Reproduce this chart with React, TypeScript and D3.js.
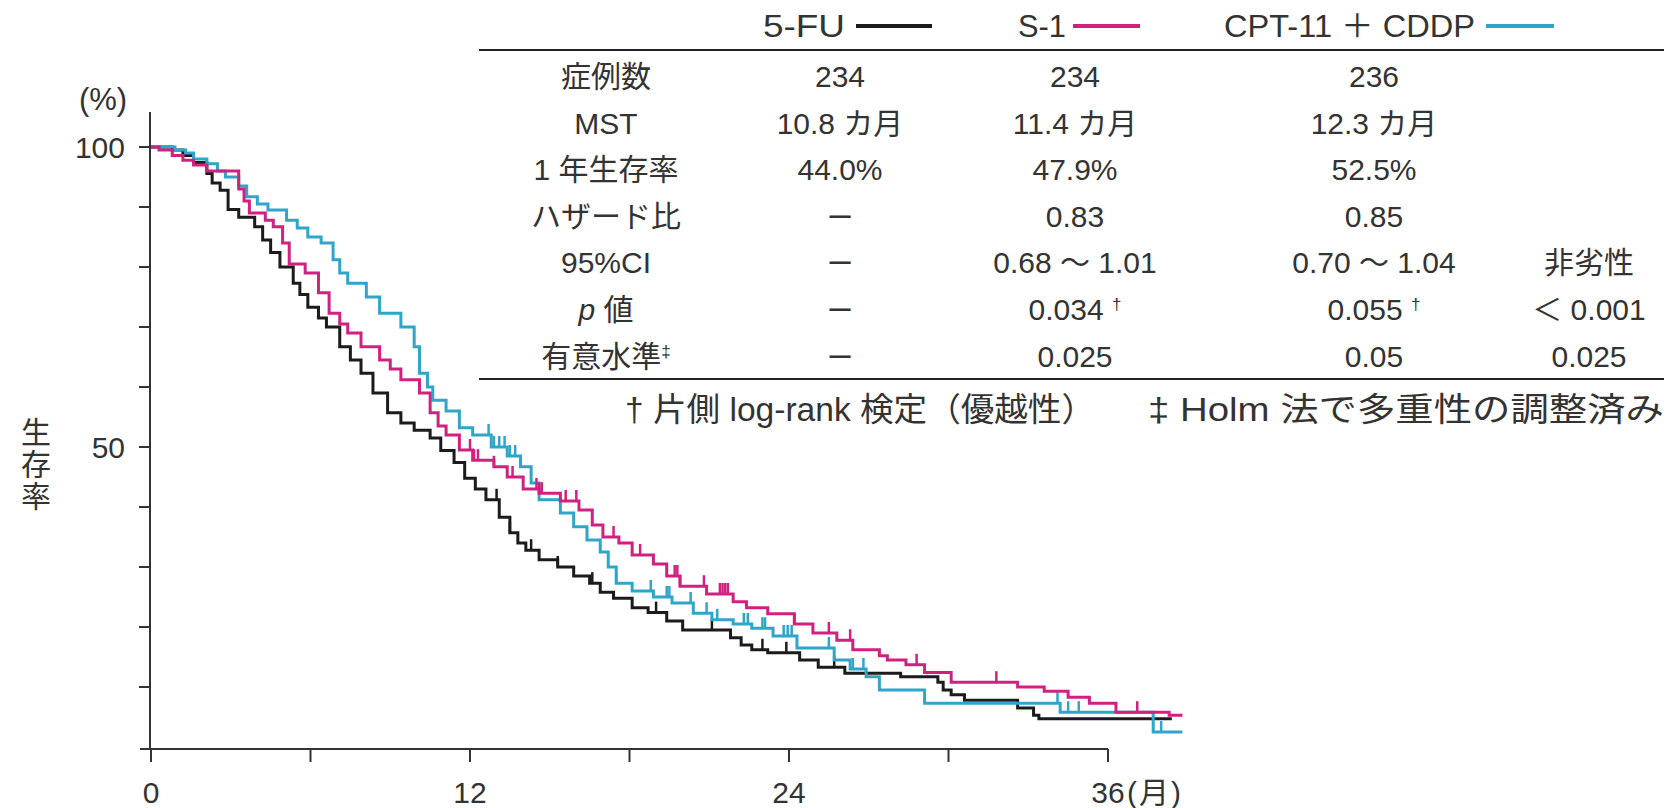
import React from "react";
import * as d3 from "d3";

const W = 1666;
const H = 808;

// Kaplan–Meier step points [month, survival %]
const fu5Steps: [number, number][] = [
  [0, 100], [0.8, 99.5], [1.2, 98.6], [1.6, 97.4], [2.1, 95.6], [2.3, 94.0], [2.6, 92.8], [2.9, 89.6],
  [3.3, 88.3], [3.9, 86.7], [4.2, 84.5], [4.5, 82.4], [4.85, 80.0], [5.35, 77.3], [5.6, 75.4], [5.9, 73.3],
  [6.3, 71.5], [6.6, 70.0], [7.1, 66.7], [7.5, 64.5], [7.9, 62.3], [8.35, 59.0], [8.9, 55.7], [9.4, 54.0],
  [9.9, 52.8], [10.5, 51.5], [10.9, 49.4], [11.4, 47.4], [11.8, 44.8], [12.2, 43.0], [12.6, 41.2], [13.1, 38.3],
  [13.5, 35.7], [13.8, 34.0], [14.1, 32.8], [14.6, 31.2], [15.3, 30.0], [15.9, 28.5], [16.5, 27.3], [16.9, 25.8],
  [17.4, 24.8], [18.1, 23.2], [18.7, 22.4], [19.4, 21.0], [20.0, 19.5], [21.8, 18.2], [22.2, 17.0], [22.6, 16.2],
  [23.2, 15.7], [24.4, 14.5], [25.1, 13.3], [26.1, 12.3], [28.2, 11.7], [29.6, 10.8], [29.8, 9.5], [30.1, 8.7],
  [30.6, 7.8], [32.6, 6.5], [33.2, 5.3], [33.4, 4.7], [38.4, 4.7],
];
const s1Steps: [number, number][] = [
  [0, 100], [0.3, 99.5], [0.8, 98.6], [1.2, 97.8], [1.6, 97.0], [2.1, 96.0], [3.3, 93.0], [3.5, 91.0],
  [3.7, 89.0], [4.3, 87.8], [4.6, 86.7], [4.95, 84.0], [5.2, 80.5], [5.8, 79.0], [6.3, 75.7], [6.7, 72.3],
  [7.1, 70.5], [7.4, 69.0], [7.9, 66.7], [8.6, 64.5], [9.0, 63.0], [9.4, 61.2], [10.1, 59.0], [10.5, 55.7],
  [10.8, 53.5], [11.1, 52.0], [11.6, 49.5], [12.1, 47.8], [12.9, 46.7], [13.4, 45.0], [14.0, 43.0], [14.6, 42.3],
  [15.4, 41.0], [16.1, 39.5], [16.6, 37.0], [17.0, 35.0], [17.6, 34.0], [18.1, 32.0], [18.9, 30.5], [19.4, 28.5],
  [19.9, 26.8], [20.9, 25.5], [21.9, 24.2], [22.4, 23.2], [23.2, 22.2], [24.2, 20.5], [24.9, 19.0], [25.8, 17.8],
  [26.4, 16.2], [27.4, 15.2], [27.7, 14.5], [28.4, 13.7], [29.1, 12.4], [30.1, 10.8], [32.6, 10.0], [33.6, 9.3],
  [34.5, 8.3], [35.3, 7.3], [36.3, 5.8], [38.3, 5.3], [38.8, 5.3],
];
const cptSteps: [number, number][] = [
  [0, 100], [0.9, 99.5], [1.3, 99.0], [1.6, 98.0], [2.1, 97.2], [2.5, 96.0], [2.8, 95.0], [3.3, 93.5],
  [3.6, 91.7], [4.0, 90.5], [4.4, 89.5], [5.1, 87.8], [5.5, 86.5], [5.9, 85.0], [6.4, 84.0], [6.85, 81.2],
  [7.1, 79.0], [7.4, 77.3], [8.1, 75.0], [8.6, 72.3], [9.4, 70.0], [9.9, 66.7], [10.1, 62.3], [10.4, 60.0],
  [10.6, 57.8], [11.1, 56.0], [11.6, 53.2], [12.1, 52.0], [12.8, 50.0], [13.4, 48.5], [13.9, 46.7], [14.3, 44.0],
  [14.6, 41.2], [15.4, 39.0], [15.9, 36.7], [16.4, 34.5], [16.9, 32.5], [17.2, 30.0], [17.5, 27.3], [18.1, 26.0],
  [18.9, 25.0], [19.6, 24.0], [20.4, 22.3], [21.1, 21.2], [21.9, 20.5], [22.6, 19.8], [23.4, 18.5], [24.3, 16.5],
  [25.7, 14.5], [26.3, 13.0], [26.9, 11.7], [27.4, 9.5], [29.1, 7.3], [34.2, 5.8], [37.7, 2.5], [38.8, 2.5],
];

// censoring marks (months)
const fu5Censor = [13.0, 13.5, 14.3, 15.3, 16.6, 19.0, 21.1, 23.0, 23.9, 25.7];
const s1Censor = [12.0, 12.15, 12.3, 12.9, 13.6, 14.5, 14.6, 14.7, 15.6, 16.0, 17.4, 18.4, 19.7, 19.8, 19.9,
  20.8, 21.4, 21.5, 21.6, 21.7, 24.2, 25.5, 26.3, 28.8, 31.8, 37.1];
const cptCensor = [12.7, 12.9, 13.1, 13.3, 13.5, 13.7, 13.9, 17.5, 18.8, 19.4, 19.5, 20.3, 20.9, 21.3, 22.3,
  22.45, 23.0, 23.1, 23.8, 23.95, 24.1, 25.5, 26.4, 26.8, 34.1, 34.5, 34.9, 38.0];

const xTicks = [0, 6, 12, 18, 24, 30, 36];
const xTickLabels = [0, 12, 24, 36];
const yTicks = [10, 20, 30, 40, 50, 60, 70, 80, 90, 100];
const yTickLabels = [50, 100];

const seriesNames = ["5-FU", "S-1", "CPT-11 ＋ CDDP"];
const seriesColors = ["#1b1b1b", "#d0217f", "#2fa6c9"];

const rowLabels = ["症例数", "MST", "1 年生存率", "ハザード比", "95%CI", "p値", "有意水準‡"];
const col5FU = ["234", "10.8 カ月", "44.0%", "–", "–", "–", "–"];
const colS1 = ["234", "11.4 カ月", "47.9%", "0.83", "0.68 ～ 1.01", "0.034 †", "0.025"];
const colCPT = ["236", "12.3 カ月", "52.5%", "0.85", "0.70 ～ 1.04", "0.055 †", "0.05"];
const colNonInf = ["", "", "", "", "非劣性", "＜ 0.001", "0.025"];
const footnotes = ["† 片側 log-rank 検定（優越性）", "‡ Holm 法で多重性の調整済み"];

const FONT = "'Liberation Sans', Arial, 'Noto Sans CJK JP', sans-serif";
const TXT = "#333";

function survAt(steps: [number, number][], t: number) {
  let s = steps[0][1];
  for (const [tt, v] of steps) {
    if (tt <= t) s = v;
    else break;
  }
  return s;
}

function renderCell(text: string, x: number, y: number, key: string) {
  if (text === "p値") {
    return (
      <text key={key} x={x} y={y} textAnchor="middle">
        <tspan fontStyle="italic">p</tspan>
        <tspan> 値</tspan>
      </text>
    );
  }
  if (text === "–") {
    return (
      <text key={key} x={x} y={y} textAnchor="middle" fontSize={38}>
        {text}
      </text>
    );
  }
  const m = text.match(/^(.*?)([†‡])$/);
  if (m) {
    return (
      <text key={key} x={x} y={y} textAnchor="middle">
        <tspan>{m[1]}</tspan>
        <tspan fontSize={17} dy={-10}>{m[2]}</tspan>
      </text>
    );
  }
  return (
    <text key={key} x={x} y={y} textAnchor="middle">
      {text}
    </text>
  );
}

export default function App() {
  const x = d3.scaleLinear().domain([0, 36]).range([151, 1108]);
  const y = d3.scaleLinear().domain([0, 100]).range([747, 147]);

  const line = d3
    .line<[number, number]>()
    .x((d) => x(d[0]))
    .y((d) => y(d[1]))
    .curve(d3.curveStepAfter);

  const series = [
    { steps: fu5Steps, censor: fu5Censor, color: seriesColors[0] },
    { steps: cptSteps, censor: cptCensor, color: seriesColors[2] },
    { steps: s1Steps, censor: s1Censor, color: seriesColors[1] },
  ];

  const axisY = 749;
  const axisX = 150;

  const rowY0 = 77;
  const rowStep = 46.6;
  const colX = [606, 840, 1075, 1374, 1589];
  const cols = [rowLabels, col5FU, colS1, colCPT, colNonInf];

  const legendItems = [
    { name: seriesNames[0], tx: 763, len: 82, lx1: 856, lx2: 932, color: seriesColors[0] },
    { name: seriesNames[1], tx: 1018, len: 48, lx1: 1073, lx2: 1140, color: seriesColors[1] },
    { name: seriesNames[2], tx: 1224, len: 251, lx1: 1486, lx2: 1554, color: seriesColors[2] },
  ];

  return (
    <svg
      width={W}
      height={H}
      style={{ position: "absolute", left: 0, top: 0, background: "#fff" }}
      fontFamily={FONT}
    >
      <rect width={W} height={H} fill="#fff" />

      {/* axes */}
      <line x1={axisX} x2={axisX} y1={112} y2={axisY} stroke="#333" strokeWidth={2} />
      <line x1={140} x2={x(36)} y1={axisY} y2={axisY} stroke="#333" strokeWidth={2} />
      {yTicks.map((t) => (
        <line key={"yt" + t} x1={axisX - 11} x2={axisX} y1={y(t)} y2={y(t)} stroke="#333" strokeWidth={2} />
      ))}
      {xTicks.map((t) => (
        <line key={"xt" + t} x1={x(t)} x2={x(t)} y1={axisY} y2={axisY + 13} stroke="#333" strokeWidth={2} />
      ))}
      <g fontSize={30} fill={TXT}>
        {yTickLabels.map((t) => (
          <text key={"yl" + t} x={125} y={y(t) + 11} textAnchor="end">
            {t}
          </text>
        ))}
        {xTickLabels.map((t) => (
          <text key={"xl" + t} x={x(t)} y={803} textAnchor="middle">
            {t}
          </text>
        ))}
        <text x={x(36) + 19} y={803} textLength={54} lengthAdjust="spacing">(月)</text>
        <text x={103} y={110} textAnchor="middle" fontSize={31}>(%)</text>
      </g>
      <g fontSize={30} fill={TXT} textAnchor="middle">
        <text x={36} y={443}>生</text>
        <text x={36} y={475}>存</text>
        <text x={36} y={507}>率</text>
      </g>

      {/* curves */}
      {series.map((s, i) => (
        <g key={"s" + i}>
          <path d={line(s.steps) || ""} fill="none" stroke={s.color} strokeWidth={3} strokeLinejoin="miter" />
          {s.censor.map((c, j) => {
            const cy = y(survAt(s.steps, c));
            return (
              <line key={j} x1={x(c)} x2={x(c)} y1={cy - 11} y2={cy} stroke={s.color} strokeWidth={2.5} />
            );
          })}
        </g>
      ))}

      {/* table */}
      <g fontSize={30} fill={TXT}>
        {legendItems.map((l) => (
          <g key={l.name}>
            <text x={l.tx} y={37} fontSize={32} textLength={l.len} lengthAdjust="spacingAndGlyphs">
              {l.name}
            </text>
            <line x1={l.lx1} x2={l.lx2} y1={26} y2={26} stroke={l.color} strokeWidth={4} />
          </g>
        ))}
        <line x1={479} x2={1664} y1={50} y2={50} stroke="#222" strokeWidth={2} />
        {cols.map((col, ci) =>
          col.map((txt, ri) => (txt ? renderCell(txt, colX[ci], rowY0 + ri * rowStep + 10, `c${ci}-${ri}`) : null))
        )}
        <line x1={479} x2={1664} y1={379} y2={379} stroke="#222" strokeWidth={2} />
        <text x={625} y={421} fontSize={33} textLength={470} lengthAdjust="spacingAndGlyphs">{footnotes[0]}</text>
        <text x={1148} y={421} fontSize={33} textLength={516} lengthAdjust="spacingAndGlyphs">{footnotes[1]}</text>
      </g>
    </svg>
  );
}
